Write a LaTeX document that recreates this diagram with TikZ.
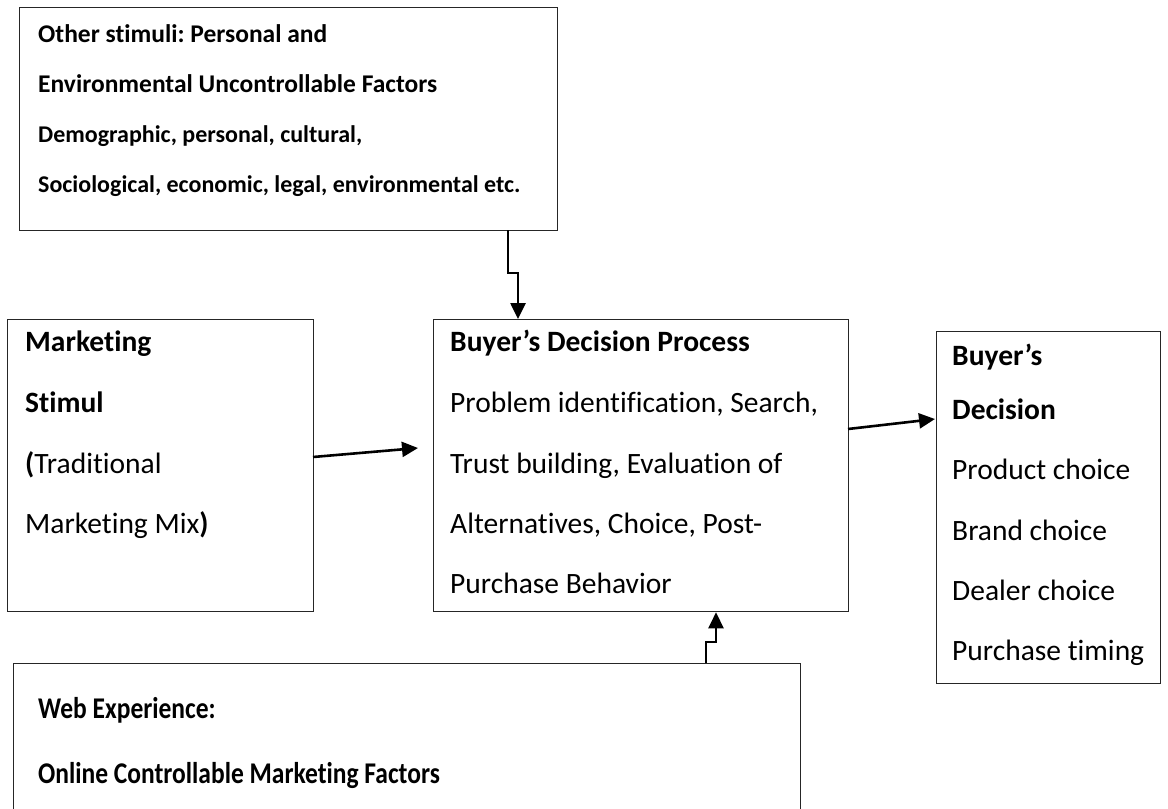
\documentclass[tikz,border=0pt]{standalone}
\usepackage{fontspec}
\setmainfont{Carlito}[Ligatures=NoCommon]
\usetikzlibrary{arrows.meta}
\frenchspacing
\tikzset{
  boxx/.style={draw=black!85, line width=1.3pt, anchor=north west, inner sep=0pt},
  txt/.style={anchor=mid west, inner sep=0pt, font=\fontsize{29.5}{33}\selectfont},
  hd/.style={txt, font=\fontsize{29.5}{33}\selectfont\bfseries},
  top/.style={txt, font=\fontsize{25.5}{30}\selectfont\bfseries},
  sm/.style={txt, font=\fontsize{24}{28}\selectfont\bfseries},
  big/.style={txt, font=\fontsize{25.5}{30}\selectfont\bfseries},
  conn/.style={line width=2.6pt, -{Triangle[length=16pt,width=15pt]}},
}
\newcommand{\tallt}[1]{\scalebox{1}[1.18]{#1}}
\begin{document}
\begin{tikzpicture}[x=1pt,y=-1pt]
\useasboundingbox (0,0) rectangle (1168,809);
% boxes
\node[boxx, minimum width=538pt, minimum height=223pt] (top) at (19,7) {};
\node[boxx, minimum width=306pt, minimum height=292pt] (mkt) at (7,319) {};
\node[boxx, minimum width=415pt, minimum height=292pt] (proc) at (433,319) {};
\node[boxx, minimum width=224pt, minimum height=352pt] (dec) at (936,331) {};
\node[boxx, minimum width=787pt, minimum height=160pt] (web) at (13,663) {};
% top texts
\node[top] (t1) at (38,40) {Other stimuli: Personal and};
\node[top] (t2) at (38,90) {Environmental Uncontrollable Factors};
\node[sm] (t3) at (38,140) {Demographic, personal, cultural,};
\node[sm] (t4) at (38,190) {Sociological, economic, legal, environmental etc.};
% marketing texts
\node[hd] (m1) at (25,349) {Marketing};
\node[hd] (m2) at (25,410) {Stimul};
\node[txt] (m3) at (25,471) {\textbf{(}Traditional};
\node[txt] (m4) at (25,531) {Marketing Mix\textbf{)}};
% process texts
\node[hd] (p1) at (450,349) {Buyer’s Decision Process};
\node[txt] (p2) at (450,410) {Problem identification, Search,};
\node[txt] (p3) at (450,471) {Trust building, Evaluation of};
\node[txt] (p4) at (450,531) {Alternatives, Choice, Post-};
\node[txt] (p5) at (450,591) {Purchase Behavior};
% decision texts
\node[hd] (d1) at (952,363) {Buyer’s};
\node[hd] (d2) at (952,417) {Decision};
\node[txt] (d3) at (952,477) {Product choice};
\node[txt] (d4) at (952,538) {Brand choice};
\node[txt] (d5) at (952,598) {Dealer choice};
\node[txt] (d6) at (952,658) {Purchase timing};
% web texts
\node[big] (w1) at (38,716) {\tallt{Web Experience:}};
\node[big] (w2) at (38,781) {\tallt{Online Controllable Marketing Factors}};
% connectors
\coordinate (a1) at (508,230);
\coordinate (a2) at (508,273);
\coordinate (a3) at (518,273);
\draw[conn] (a1) -- (a2) -- (a3) -- (proc.north -| a3);
\coordinate (b1) at (313,457);
\coordinate (b2) at (418,448);
\draw[conn] (b1) -- (b2);
\coordinate (c1) at (848,429);
\coordinate (c2) at (935,419);
\draw[conn] (c1) -- (c2);
\coordinate (e1) at (706,663);
\coordinate (e2) at (706,642);
\coordinate (e3) at (716,642);
\draw[conn] (e1) -- (e2) -- (e3) -- (proc.south -| e3);
\end{tikzpicture}
\end{document}
